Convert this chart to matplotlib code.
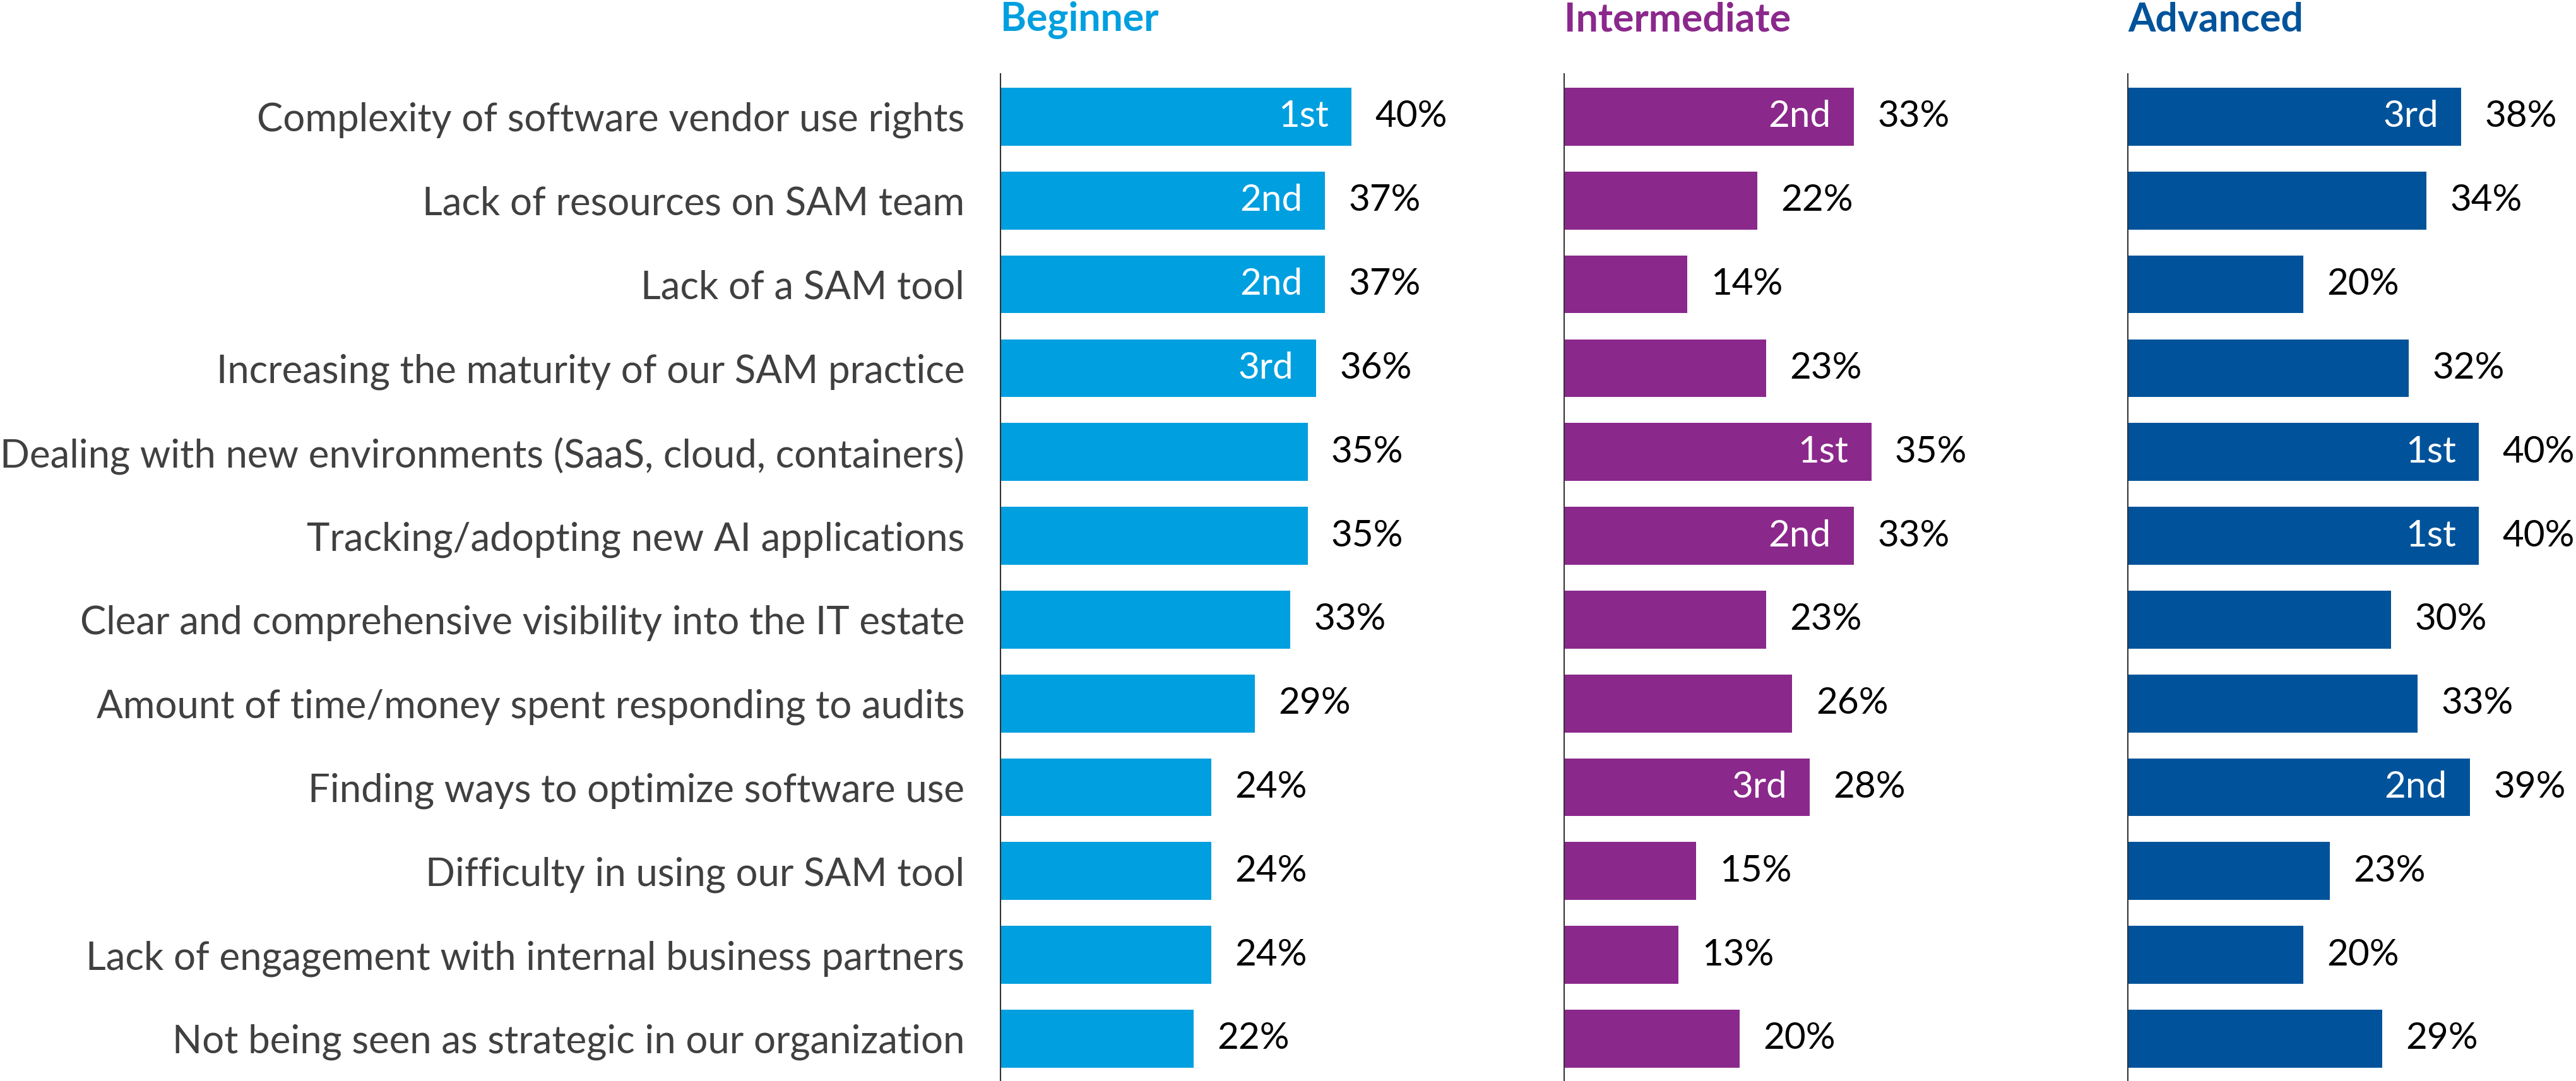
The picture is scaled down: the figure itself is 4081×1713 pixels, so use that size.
import numpy as np
import matplotlib
matplotlib.use("Agg")
import matplotlib.pyplot as plt

plt.rcParams['font.family'] = ['Lato', 'DejaVu Sans']

categories = [
    "Complexity of software vendor use rights",
    "Lack of resources on SAM team",
    "Lack of a SAM tool",
    "Increasing the maturity of our SAM practice",
    "Dealing with new environments (SaaS, cloud, containers)",
    "Tracking/adopting new AI applications",
    "Clear and comprehensive visibility into the IT estate",
    "Amount of time/money spent responding to audits",
    "Finding ways to optimize software use",
    "Difficulty in using our SAM tool",
    "Lack of engagement with internal business partners",
    "Not being seen as strategic in our organization",
]

groups = ["Beginner", "Intermediate", "Advanced"]
beginner = [40, 37, 37, 36, 35, 35, 33, 29, 24, 24, 24, 22]
intermediate = [33, 22, 14, 23, 35, 33, 23, 26, 28, 15, 13, 20]
advanced = [38, 34, 20, 32, 40, 40, 30, 33, 39, 23, 20, 29]

beginner_rank = ["1st", "2nd", "2nd", "3rd", "", "", "", "", "", "", "", ""]
intermediate_rank = ["2nd", "", "", "", "1st", "2nd", "", "", "3rd", "", "", ""]
advanced_rank = ["3rd", "", "", "", "1st", "1st", "", "", "2nd", "", "", ""]

colors = ["#009FDF", "#8B288C", "#00539B"]

values = [beginner, intermediate, advanced]
ranks = [beginner_rank, intermediate_rank, advanced_rank]

W, H = 4081, 1713
fig = plt.figure(figsize=(W / 100, H / 100), dpi=100)

lefts = [1585, 2478, 3371]
ax_top = 117
xmax = 50
px_per_pct = 13.9
fs = 42

y = np.arange(len(categories))
for k in range(3):
    ax = fig.add_axes([lefts[k] / W, 0, xmax * px_per_pct / W, (H - ax_top) / H])
    ax.barh(y, values[k], height=0.69, color=colors[k])
    ax.set_xlim(0, xmax)
    ax.set_ylim(11.505, -0.512)
    for s in ["top", "right", "bottom"]:
        ax.spines[s].set_visible(False)
    ax.spines["left"].set_color("#333333")
    ax.spines["left"].set_linewidth(1.5)
    ax.set_xticks([])
    if k == 0:
        ax.set_yticks(y)
        ax.set_yticklabels(categories, fontsize=44.5, color="#404040")
        ax.tick_params(axis="y", length=0, pad=41)
    else:
        ax.set_yticks([])
    for i, v in enumerate(values[k]):
        ax.annotate(f"{v}%", (v, i), xytext=(27, 0), textcoords="offset points",
                    ha="left", va="center", fontsize=fs, color="black")
        if ranks[k][i]:
            ax.annotate(ranks[k][i], (v, i), xytext=(-26, 0), textcoords="offset points",
                        ha="right", va="center", fontsize=fs, color="white")
    fig.text(lefts[k] / W, 1 - 31 / H, groups[k], ha="left", va="center",
             fontsize=45, fontweight="bold", color=colors[k])

fig.savefig("out.png", dpi=100)
